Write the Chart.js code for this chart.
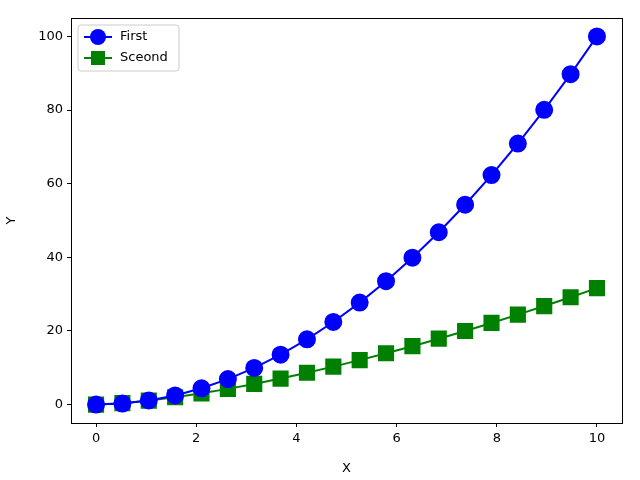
<!DOCTYPE html>
<html>
<head>
<meta charset="utf-8">
<script src="https://cdn.jsdelivr.net/npm/chart.js@4/dist/chart.umd.min.js"></script>
<style>
  html, body { margin: 0; padding: 0; background: #fff; }
  #wrap { width: 640px; height: 480px; }
</style>
</head>
<body>
<div id="wrap"><canvas id="chart" width="640" height="480"></canvas></div>
<script>
// data
const xValues = [0, 0.526, 1.053, 1.579, 2.105, 2.632, 3.158, 3.684, 4.211, 4.737,
                 5.263, 5.789, 6.316, 6.842, 7.368, 7.895, 8.421, 8.947, 9.474, 10];
const firstValues = [0, 0.28, 1.11, 2.49, 4.43, 6.93, 9.97, 13.57, 17.73, 22.44,
                     27.7, 33.52, 39.89, 46.81, 54.29, 62.33, 70.91, 80.06, 89.75, 100];
const secondValues = [0, 0.38, 1.08, 1.98, 3.05, 4.27, 5.61, 7.07, 8.64, 10.31,
                      12.07, 13.93, 15.87, 17.9, 20.0, 22.18, 24.44, 26.76, 29.16, 31.62];
const seriesNames = ['First', 'Sceond'];

Chart.defaults.font.family = 'DejaVu Sans';
Chart.defaults.font.size = 13;
Chart.defaults.color = '#000';

const pts = (ys) => xValues.map((x, i) => ({ x: x, y: ys[i] }));

// frame + legend in the top-left corner, matplotlib style
const frameLegend = {
  id: 'frameLegend',
  afterDraw(chart) {
    const { ctx, chartArea: a } = chart;
    ctx.save();
    ctx.strokeStyle = '#000';
    ctx.lineWidth = 1;
    ctx.strokeRect(a.left + 0.5, a.top + 0.5, a.right - a.left, a.bottom - a.top);

    const bx = a.left + 7, by = a.top + 7, bw = 101, bh = 46;
    ctx.fillStyle = 'rgba(255,255,255,0.8)';
    ctx.strokeStyle = '#ccc';
    ctx.beginPath();
    ctx.roundRect(bx, by, bw, bh, 3);
    ctx.fill();
    ctx.stroke();

    chart.data.datasets.forEach((ds, i) => {
      const cy = by + 12 + i * 21;
      ctx.strokeStyle = ds.borderColor;
      ctx.lineWidth = 2;
      ctx.beginPath();
      ctx.moveTo(bx + 6, cy);
      ctx.lineTo(bx + 34, cy);
      ctx.stroke();
      ctx.fillStyle = ds.backgroundColor;
      if (ds.pointStyle === 'rect') {
        ctx.fillRect(bx + 13, cy - 7, 14, 14);
      } else {
        ctx.beginPath();
        ctx.arc(bx + 20, cy, 8, 0, Math.PI * 2);
        ctx.fill();
      }
      ctx.fillStyle = '#000';
      ctx.font = '13px DejaVu Sans';
      ctx.textBaseline = 'middle';
      ctx.fillText(ds.label, bx + 42, cy);
    });
    ctx.restore();
  }
};

new Chart(document.getElementById('chart').getContext('2d'), {
  type: 'line',
  data: {
    datasets: [
      {
        label: seriesNames[0],
        data: pts(firstValues),
        borderColor: '#0000ff',
        backgroundColor: '#0000ff',
        borderWidth: 2,
        pointStyle: 'circle',
        pointRadius: 8,
        pointHoverRadius: 8
      },
      {
        label: seriesNames[1],
        data: pts(secondValues),
        borderColor: '#008000',
        backgroundColor: '#008000',
        borderWidth: 2,
        pointStyle: 'rect',
        pointRadius: 10,
        pointHoverRadius: 10
      }
    ]
  },
  options: {
    responsive: false,
    animation: false,
    layout: { padding: { left: 0, top: 18, right: 18, bottom: 0 } },
    plugins: { legend: { display: false }, tooltip: { enabled: false } },
    scales: {
      x: {
        type: 'linear',
        min: -0.5,
        max: 10.5,
        afterBuildTicks: (s) => { s.ticks = [0, 2, 4, 6, 8, 10].map(v => ({ value: v })); },
        afterFit: (s) => { s.height = 57; },
        grid: { drawOnChartArea: false, drawTicks: true, tickLength: 4, color: '#000' },
        border: { display: true, color: '#000' },
        ticks: { padding: 4 },
        title: { display: true, text: 'X', padding: { top: 2 } }
      },
      y: {
        type: 'linear',
        min: -5,
        max: 105,
        afterBuildTicks: (s) => { s.ticks = [0, 20, 40, 60, 80, 100].map(v => ({ value: v })); },
        afterFit: (s) => { s.width = 71; },
        grid: { drawOnChartArea: false, drawTicks: true, tickLength: 4, color: '#000' },
        border: { display: true, color: '#000' },
        ticks: { padding: 4 },
        title: { display: true, text: 'Y' }
      }
    }
  },
  plugins: [frameLegend]
});
</script>
</body>
</html>
